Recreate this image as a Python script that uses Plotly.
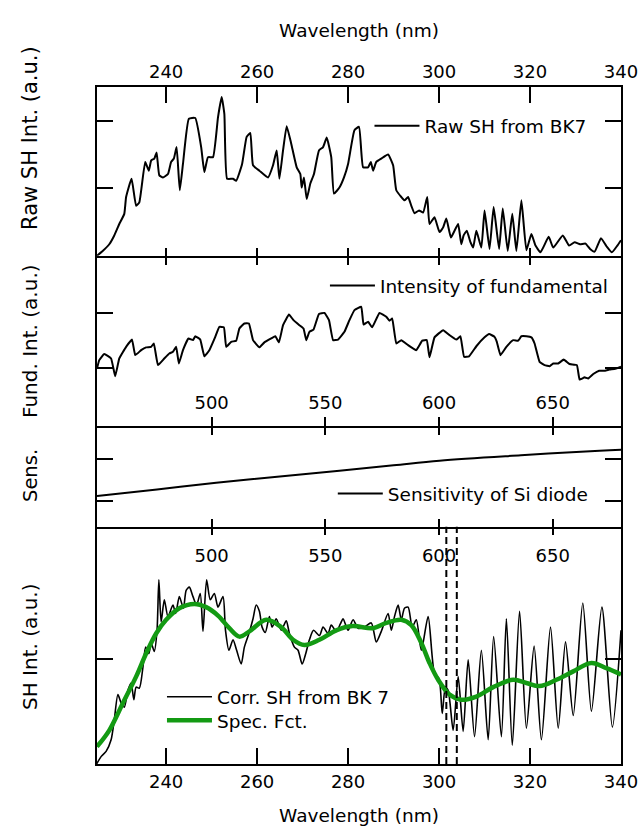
import plotly.graph_objects as go

# ---------------- data (wavelength in SH nm) ----------------
raw_wl = [224.8, 226.05, 227.5, 228.6, 229.7, 230.8, 231.2, 232.4, 233.4, 234.1, 235.4, 236.2, 236.7,
          237.4, 237.9, 238.5, 239.3, 240.4, 241.1, 241.7, 242.3, 243.0, 243.7, 245.0, 246.4, 247.7,
          248.4, 249.2, 250.3, 251.4, 252.2, 252.8, 253.4, 254.7, 255.4, 256.7, 257.7, 258.5, 259.1,
          260.5, 262.4, 263.5, 264.3, 264.9, 265.7, 266.5, 267.5, 268.7, 269.5, 269.8, 270.3, 270.9,
          271.7, 272.5, 273.6, 274.5, 275.3, 276.3, 276.9, 278.1, 279.1, 280.0, 281.4, 282.4, 283.3,
          284.4, 285.0, 285.5, 286.2, 287.3, 288.8, 289.9, 290.6, 291.7, 292.4, 293.2, 293.9, 294.6,
          295.6, 296.5, 297.4, 297.9, 299.0, 300.1, 300.9, 301.6, 302.6, 303.4, 304.2, 304.9, 305.4,
          306.1, 306.9, 307.5, 308.2, 309.3, 310.0, 311.1, 312.0, 313.2, 314.0, 315.1, 316.1, 317.0,
          318.1, 319.2, 320.3, 321.2, 322.3, 324.1, 325.1, 327.2, 328.6, 329.8, 331.0, 332.2, 333.2,
          334.2, 335.6, 336.8, 338.0, 339.2, 340.0]
raw_int = [0.0, 0.07, 0.17, 0.30, 0.47, 0.62, 0.87, 1.14, 0.74, 0.79, 1.39, 1.26, 1.41,
           1.44, 1.53, 1.19, 1.16, 1.21, 1.39, 1.44, 1.61, 0.97, 1.36, 2.03, 2.04, 1.61,
           1.24, 1.46, 1.46, 2.05, 2.35, 2.10, 1.14, 1.14, 1.11, 1.36, 1.76, 1.82, 1.34,
           1.26, 1.16, 1.34, 1.56, 1.14, 1.56, 1.92, 1.66, 1.31, 1.21, 1.01, 1.16, 0.84,
           1.07, 1.21, 1.56, 1.61, 1.75, 1.46, 0.92, 1.01, 1.16, 1.36, 1.86, 1.91, 1.31,
           1.31, 1.39, 1.26, 1.39, 1.44, 1.50, 1.34, 0.97, 0.87, 0.82, 0.87, 0.74, 0.63,
           0.67, 0.64, 0.87, 0.47, 0.57, 0.35, 0.42, 0.55, 0.27, 0.37, 0.47, 0.17, 0.30,
           0.37, 0.20, 0.12, 0.37, 0.12, 0.67, 0.10, 0.72, 0.10, 0.70, 0.07, 0.62, 0.07,
           0.82, 0.08, 0.32, 0.15, 0.05, 0.28, 0.12, 0.30, 0.15, 0.20, 0.17, 0.18, 0.10,
           0.06, 0.26, 0.14, 0.05, 0.15, 0.23]

fund_wl = [224.8, 225.3, 226.4, 227.9, 228.8, 229.7, 231.2, 232.5, 233.2, 234.5, 235.6, 236.7, 237.3,
           238.2, 239.6, 240.7, 241.5, 242.2, 242.8, 243.7, 244.9, 245.9, 246.4, 247.5, 248.4, 249.5,
           250.8, 251.7, 252.7, 253.2, 254.3, 255.4, 256.1, 257.2, 258.2, 259.1, 260.5, 261.6, 263.1,
           264.0, 264.8, 265.7, 267.0, 268.0, 269.3, 270.2, 270.8, 271.5, 272.4, 273.6, 274.8, 275.8,
           276.7, 277.8, 279.2, 280.3, 281.4, 282.9, 283.4, 284.4, 285.3, 286.9, 288.4, 289.1, 289.7,
           290.6, 291.7, 293.2, 295.0, 296.3, 297.3, 297.9, 299.0, 300.9, 302.3, 303.8, 304.7, 305.5,
           306.6, 308.2, 310.0, 311.0, 312.2, 312.7, 313.5, 314.8, 316.3, 317.4, 318.1, 319.2, 320.3,
           321.0, 322.1, 323.2, 324.3, 325.1, 326.2, 327.4, 328.7, 330.3, 330.9, 332.0, 332.8, 333.9,
           335.2, 336.5, 337.5, 338.5, 339.3, 340.0]
fund_int = [1.0, 1.15, 1.26, 1.18, 0.86, 1.18, 1.39, 1.52, 1.24, 1.33, 1.38, 1.39, 1.45,
            1.06, 1.18, 1.27, 1.30, 1.39, 1.09, 1.33, 1.54, 1.51, 1.58, 1.52, 1.22, 1.33,
            1.57, 1.75, 1.74, 1.39, 1.48, 1.50, 1.72, 1.81, 1.81, 1.51, 1.38, 1.47, 1.54,
            1.58, 1.47, 1.78, 1.97, 1.87, 1.78, 1.72, 1.51, 1.66, 1.70, 1.98, 2.00, 1.87,
            1.51, 1.52, 1.66, 1.87, 2.05, 2.11, 1.79, 1.84, 1.74, 2.00, 1.93, 1.86, 1.90,
            1.45, 1.51, 1.42, 1.33, 1.50, 1.51, 1.20, 1.56, 1.69, 1.60, 1.52, 1.58, 1.21,
            1.22, 1.40, 1.56, 1.62, 1.57, 1.48, 1.24, 1.39, 1.51, 1.50, 1.58, 1.58, 1.56,
            1.45, 1.12, 1.06, 1.04, 1.09, 1.09, 1.16, 1.08, 1.06, 0.80, 0.84, 0.82, 0.90,
            0.96, 0.96, 0.98, 0.99, 1.01, 1.03]

sens_wl = [224.8, 238.0, 251.0, 265.0, 278.1, 290.0, 300.1, 318.0, 335.3, 340.0]
sens_val = [1.11, 1.27, 1.43, 1.58, 1.72, 1.85, 1.96, 2.09, 2.20, 2.22]

corr_wl = [224.7, 225.7, 226.8, 227.9, 228.6, 229.4, 230.1, 230.8, 231.6, 232.3, 232.9, 233.4, 234.1,
           234.9, 235.5, 236.2, 236.7, 237.4, 238.0, 238.4, 238.9, 239.6, 240.4, 241.5, 242.1, 242.9,
           243.8, 244.4, 245.1, 245.9, 246.7, 247.5, 248.1, 248.9, 249.7, 250.6, 251.4, 252.5, 253.05,
           253.8, 254.7, 255.5, 256.5, 257.2, 258.2, 259.1, 259.8, 260.5, 261.1, 261.8, 262.7, 263.3,
           264.2, 265.3, 266.4, 267.1, 268.2, 269.0, 269.9, 270.7, 271.5, 272.4, 273.7, 274.5, 275.6,
           276.3, 277.4, 278.3, 278.9, 280.0, 281.1, 282.2, 283.6, 285.1, 286.2, 287.3, 288.8, 289.5,
           290.2, 291.0, 291.7, 292.4, 293.2, 294.1, 295.0, 296.1, 297.6, 299.0, 300.0, 300.7, 301.4,
           302.0, 303.1, 304.2, 305.3, 306.4, 307.8, 309.3, 310.8, 312.0, 313.7, 314.8, 316.1, 317.7,
           319.2, 320.9, 322.5, 324.5, 326.2, 327.8, 329.5, 331.6, 333.5, 335.8, 338.1, 340.0]
corr_int = [0.00, 0.07, 0.12, 0.23, 0.42, 0.66, 0.58, 0.54, 0.70, 0.77, 0.61, 0.73, 0.72,
            0.92, 1.11, 1.05, 1.15, 1.07, 1.27, 1.75, 1.35, 1.56, 1.40, 1.51, 1.43, 1.59,
            1.48, 1.65, 1.68, 1.59, 1.51, 1.62, 1.26, 1.75, 1.56, 1.62, 1.49, 1.59, 1.27,
            1.08, 1.18, 1.08, 0.95, 1.11, 1.24, 1.38, 1.51, 1.45, 1.30, 1.25, 1.40, 1.30,
            1.38, 1.27, 1.36, 1.24, 1.11, 1.08, 0.95, 1.05, 1.18, 1.27, 1.22, 1.30, 1.24,
            1.32, 1.26, 1.33, 1.38, 1.27, 1.37, 1.29, 1.30, 1.34, 1.16, 1.26, 1.43, 1.27,
            1.40, 1.51, 1.37, 1.48, 1.49, 1.30, 1.37, 1.08, 1.40, 0.86, 0.81, 0.48, 0.73,
            0.70, 0.32, 0.83, 0.31, 0.99, 0.26, 1.08, 0.23, 1.21, 0.26, 1.38, 0.18, 1.45,
            0.34, 1.12, 0.23, 1.30, 0.34, 1.16, 0.46, 1.53, 0.50, 1.49, 0.35, 1.27]

spec_wl = [224.8, 227.5, 230.5, 233.4, 235.6, 237.8, 240.0, 242.9, 246.2, 248.8, 251.4, 253.9, 256.1,
           258.3, 262.0, 265.3, 267.9, 270.4, 273.7, 277.4, 281.0, 285.5, 288.4, 291.7, 293.9, 296.1,
           297.9, 299.8, 302.3, 304.9, 308.2, 311.9, 316.3, 319.2, 322.1, 325.8, 329.5, 333.5, 336.8,
           340.0]
spec_val = [0.165, 0.32, 0.58, 0.83, 1.05, 1.24, 1.37, 1.48, 1.52, 1.49, 1.41, 1.29, 1.21,
            1.26, 1.37, 1.30, 1.18, 1.13, 1.18, 1.27, 1.31, 1.29, 1.34, 1.37, 1.32, 1.15,
            0.96, 0.80, 0.66, 0.61, 0.64, 0.73, 0.80, 0.77, 0.74, 0.80, 0.88, 0.96, 0.91,
            0.85]

cutoff_wl = [301.6, 303.9]

sh_ticks = [240, 260, 280, 300, 320, 340]
fund_ticks = [500, 550, 600, 650]
fund_tick_pos = [f / 2 for f in fund_ticks]
fund_tick_text = [str(f) for f in fund_ticks]

y_titles = ["Raw SH Int. (a.u.)", "Fund. Int. (a.u.)", "Sens.", "SH Int. (a.u.)"]

x_range = [224.8, 340.0]
FONT = "DejaVu Sans, Verdana, sans-serif"
FS_TICK = 18
FS_TEXT = 18.5

fig = go.Figure()
fig.add_trace(go.Scatter(x=raw_wl, y=raw_int, mode="lines", name="Raw SH from BK7",
                         line=dict(color="black", width=2, shape="spline", smoothing=0.4),
                         xaxis="x", yaxis="y", legend="legend"))
fig.add_trace(go.Scatter(x=fund_wl, y=fund_int, mode="lines", name="Intensity of fundamental",
                         line=dict(color="black", width=2, shape="spline", smoothing=0.3),
                         xaxis="x2", yaxis="y2", legend="legend2"))
fig.add_trace(go.Scatter(x=sens_wl, y=sens_val, mode="lines", name="Sensitivity of Si diode",
                         line=dict(color="black", width=2, shape="spline"), xaxis="x3", yaxis="y3",
                         legend="legend3"))
fig.add_trace(go.Scatter(x=corr_wl, y=corr_int, mode="lines", name="Corr. SH from BK 7",
                         line=dict(color="black", width=1.6, shape="spline", smoothing=0.7),
                         xaxis="x4", yaxis="y4", legend="legend4"))
fig.add_trace(go.Scatter(x=spec_wl, y=spec_val, mode="lines", name="Spec. Fct.",
                         line=dict(color="#139a13", width=4.5, shape="spline"), xaxis="x4", yaxis="y4",
                         legend="legend5"))

# empty traces so that the secondary (tick-only) axes are drawn
for xa, ya in [("x5", "y"), ("x6", "y2"), ("x7", "y3"), ("x8", "y4")]:
    fig.add_trace(go.Scatter(x=[], y=[], mode="lines", xaxis=xa, yaxis=ya, showlegend=False,
                             hoverinfo="skip"))

for w in cutoff_wl:
    fig.add_shape(type="line", xref="x4", yref="y4 domain", x0=w, x1=w, y0=0, y1=1,
                  line=dict(color="black", width=2, dash="7px,4px"))

dom = {1: [0.7508, 1.0], 2: [0.4997, 0.7508], 3: [0.3505, 0.4997], 4: [0.0, 0.3505]}

def xax(**kw):
    base = dict(range=x_range, showgrid=False, zeroline=False, showline=True, linecolor="black",
                linewidth=2, ticks="inside", tickcolor="black", tickwidth=2, domain=[0, 1],
                tickfont=dict(family=FONT, size=FS_TICK, color="black"), automargin=False)
    base.update(kw)
    return base

def yax(rng, tv, d, anchor):
    return dict(domain=d, range=rng, tickvals=tv, showticklabels=False, ticks="inside", ticklen=16,
                tickwidth=2, tickcolor="black", showline=True, linewidth=2, linecolor="black",
                mirror="ticks", showgrid=False, zeroline=False, anchor=anchor, automargin=False)

xtitle_font = dict(family=FONT, size=FS_TEXT, color="black")
lay = dict(
    width=643, height=838, margin=dict(l=97, r=22, t=87, b=74),
    paper_bgcolor="white", plot_bgcolor="white",
    font=dict(family=FONT, size=FS_TEXT, color="black"),
    xaxis=xax(anchor="y", side="top", tickvals=sh_ticks, ticklen=16,
              title=dict(text="Wavelength (nm)", standoff=18, font=xtitle_font)),
    xaxis5=xax(anchor="y", overlaying="x", side="bottom", tickvals=sh_ticks, ticklen=8,
               showticklabels=False),
    xaxis2=xax(anchor="y2", side="bottom", tickvals=fund_tick_pos, ticktext=fund_tick_text, ticklen=9,
               ticklabelposition="inside", ticklabelstandoff=5),
    xaxis6=xax(anchor="y2", overlaying="x2", side="top", tickvals=sh_ticks, ticklen=9,
               showticklabels=False, showline=False),
    xaxis3=xax(anchor="y3", side="top", tickvals=fund_tick_pos, ticklen=9, showticklabels=False,
               showline=False),
    xaxis7=xax(anchor="y3", overlaying="x3", side="bottom", tickvals=fund_tick_pos, ticklen=8,
               showticklabels=False),
    xaxis4=xax(anchor="y4", side="bottom", tickvals=sh_ticks, ticklen=16,
               title=dict(text="Wavelength (nm)", standoff=18, font=xtitle_font)),
    xaxis8=xax(anchor="y4", overlaying="x4", side="top", tickvals=fund_tick_pos, ticktext=fund_tick_text,
               ticklen=8, ticklabelposition="inside", ticklabelstandoff=15, showline=False),
    yaxis=yax([0, 2.5], [0, 1, 2], dom[1], "x"),
    yaxis2=yax([-0.03, 3.03], [0, 1, 2, 3], dom[2], "x2"),
    yaxis3=yax([0.376, 2.798], [1, 2], dom[3], "x3"),
    yaxis4=yax([0, 2.254], [0, 1, 2], dom[4], "x4"),
    showlegend=True,
)

# y-axis titles (rotated), positioned as in the reference
title_y_px = [138, 341, 476, 647]
title_sizes = [21, 20, 19.5, 20]
plot_top, plot_h, plot_left, plot_w = 87, 677, 97, 524
lay["annotations"] = [
    dict(text=t, textangle=-90, xref="paper", yref="paper",
         x=(30 - plot_left) / plot_w, y=(plot_top + plot_h - py) / plot_h,
         xanchor="center", yanchor="middle", showarrow=False,
         font=dict(family=FONT, size=s, color="black"))
    for t, py, s in zip(y_titles, title_y_px, title_sizes)
]

leg_common = dict(xanchor="left", yanchor="middle", bgcolor="rgba(0,0,0,0)", borderwidth=0,
                  itemwidth=45, font=dict(family=FONT, size=FS_TEXT, color="black"))
lay["legend"] = dict(x=0.52, y=0.942, **leg_common)
lay["legend2"] = dict(x=0.435, y=0.706, **leg_common)
lay["legend3"] = dict(x=0.450, y=0.399, **leg_common)
lay["legend4"] = dict(x=0.124, y=0.0987, **leg_common)
lay["legend5"] = dict(x=0.124, y=0.0638, **leg_common)

fig.update_layout(**lay)
fig.write_html("out.html")
